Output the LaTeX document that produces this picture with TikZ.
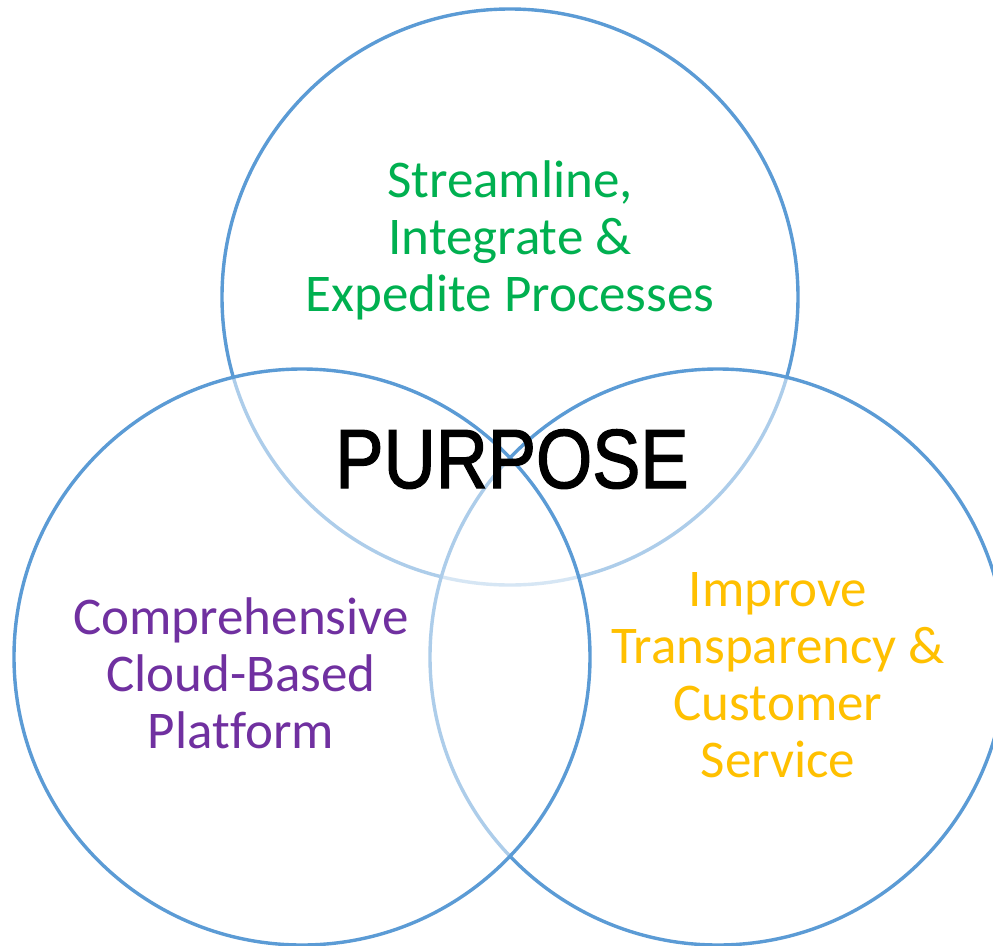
\documentclass[tikz,border=0pt]{standalone}
\usepackage{fontspec}
\newfontfamily\carlito[Ligatures=NoCommon]{Carlito}
\newfontfamily\purposefont[FakeStretch=0.86,FakeBold=1.5]{Liberation Sans}
\definecolor{ringblue}{HTML}{5B9BD5}
\definecolor{tgreen}{HTML}{00B050}
\definecolor{tpurple}{HTML}{7030A0}
\definecolor{torange}{HTML}{FFC000}
\begin{document}
\begin{tikzpicture}[x=1pt,y=-1pt,
  ring/.style={draw=ringblue,line width=3.4pt,fill=white,fill opacity=0.5,draw opacity=1,circle,minimum size=576pt,inner sep=0pt},
  label/.style={align=center,anchor=base,font=\carlito\fontsize{53}{57}\selectfont}]
\useasboundingbox[fill=white] (0,0) rectangle (993,945);
\node[ring] (top) at (510,297) {};
\node[ring] (right) at (718,657) {};
\node[ring] (left) at (302,657) {};
\node[label,text=tgreen] (streamline) at (510,311) {Streamline,\\Integrate \&\\Expedite Processes};
\node[label,text=tpurple] (cloud) at (241,748) {Comprehensive\\Cloud-Based\\Platform};
\node[label,text=torange] (improve) at (778,777) {Improve\\Transparency \&\\Customer\\Service};
\node[anchor=base,font=\purposefont\fontsize{84}{90}\selectfont,text=black] (purpose) at (512,488) {PURPOSE};
\end{tikzpicture}
\end{document}
